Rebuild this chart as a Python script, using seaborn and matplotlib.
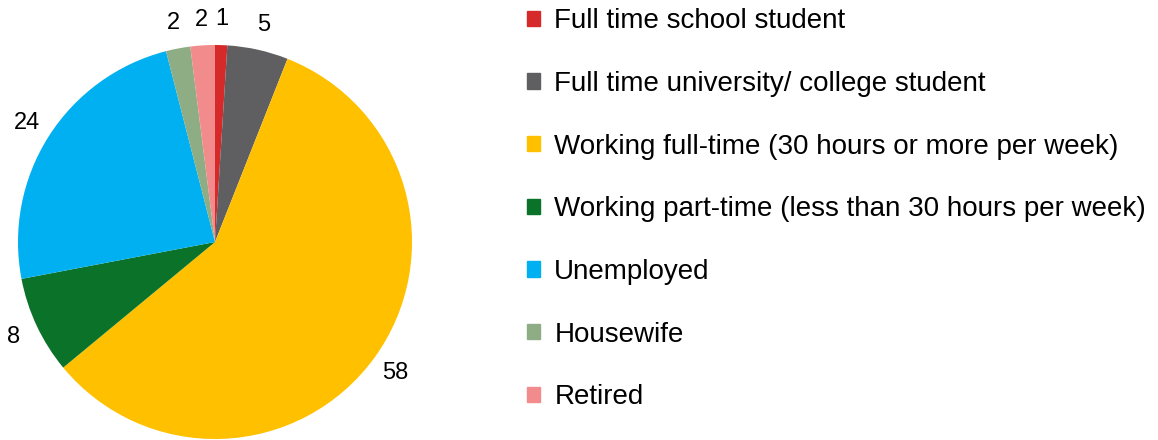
import matplotlib
matplotlib.use("Agg")
import matplotlib.pyplot as plt
import matplotlib.patches as mpatches
import seaborn as sns

categories = [
    "Full time school student",
    "Full time university/ college student",
    "Working full-time (30 hours or more per week)",
    "Working part-time (less than 30 hours per week)",
    "Unemployed",
    "Housewife",
    "Retired",
]
values = [1, 5, 58, 8, 24, 2, 2]
colors = ["#D62A2A", "#5F5F62", "#FFC000", "#0B7329", "#00B0F0", "#8FAD85", "#F28C8C"]

sns.set_style("white")
plt.rcParams["font.family"] = ["Liberation Sans", "DejaVu Sans"]

W, H = 1158, 440
fig = plt.figure(figsize=(W / 100, H / 100), dpi=100)

# pie placed in pixel terms: centre (215, 242 from top), radius 197
cx, cy, r, half = 215, H - 242, 197, 240
ax = fig.add_axes([(cx - half) / W, (cy - half) / H, 2 * half / W, 2 * half / H])
wedges, texts = ax.pie(
    values,
    colors=colors,
    labels=[str(v) for v in values],
    startangle=90,
    counterclock=False,
    labeldistance=1.13,
    wedgeprops=dict(linewidth=0),
    textprops=dict(fontsize=17, color="black"),
)
for t in texts:
    t.set_horizontalalignment("center")
    t.set_verticalalignment("center")
lim = half / r
ax.set_xlim(-lim, lim)
ax.set_ylim(-lim, lim)
ax.set_aspect("equal")
ax.axis("off")

handles = [mpatches.Patch(color=c, label=l) for c, l in zip(colors, categories)]
fig.legend(
    handles=handles,
    loc="upper left",
    bbox_to_anchor=(519 / W, 1.0),
    frameon=False,
    fontsize=20,
    labelcolor="black",
    handlelength=0.47,
    handleheight=0.47,
    handletextpad=0.5,
    labelspacing=1.32,
    borderaxespad=0,
    borderpad=0.3,
)

fig.savefig("out.png", dpi=100)
